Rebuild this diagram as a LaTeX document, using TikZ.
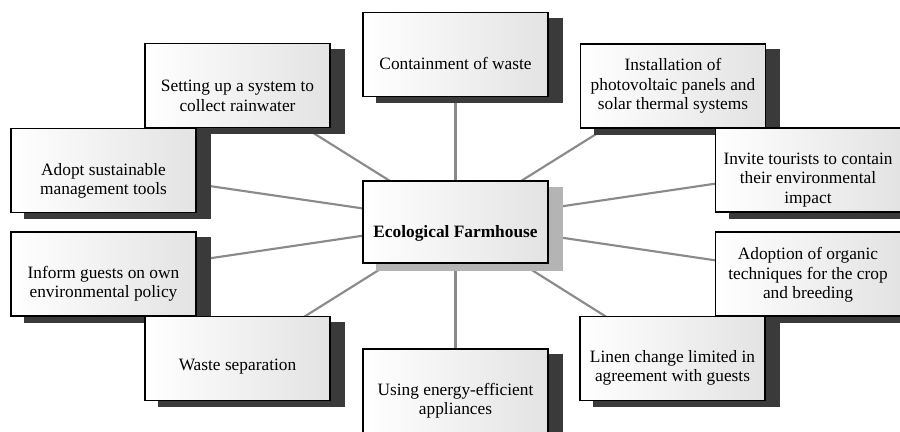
\documentclass[tikz,border=0pt]{standalone}
\usepackage{fontspec}
\setmainfont{Liberation Serif}
\usetikzlibrary{calc,backgrounds}

\tikzset{every picture/.style={line width=0.75pt}}
\tikzset{
  card/.style={draw={rgb, 255:red, 0; green, 0; blue, 0 }, line width=0.9pt, left color=white, right color=black!11, minimum width=138.75pt, minimum height=63pt, inner sep=0pt},
  cardtext/.style={align=center, inner sep=0pt, font=\fontsize{13}{14.6}\selectfont},
  spoke/.style={draw={rgb, 255:red, 138; green, 138; blue, 138 }, line width=1.6pt},
  cardshadow/.style={fill={rgb, 255:red, 58; green, 58; blue, 58 }},
  hubshadow/.style={fill={rgb, 255:red, 180; green, 180; blue, 180 }}
}

\begin{document}
\begin{tikzpicture}[x=0.75pt,y=0.75pt,yscale=-1,xscale=1]
\useasboundingbox (0,0) rectangle (900,432); %diagram is 900 wide, 432 high

%Shape: Rectangle [hub]
\node[card, minimum height=61.5pt] (hub) at (455.5,222) {};
%Shape: Rectangle [top]
\node[card] (cont) at (455.5,54.5) {};
%Shape: Rectangle [upper left]
\node[card] (setup) at (237.5,85.5) {};
%Shape: Rectangle [upper right]
\node[card] (install) at (673,86) {};
%Shape: Rectangle [left, up]
\node[card] (adopt) at (103.5,170.5) {};
%Shape: Rectangle [right, up]
\node[card] (invite) at (808,170) {};
%Shape: Rectangle [left, down]
\node[card] (inform) at (103.5,274) {};
%Shape: Rectangle [right, down]
\node[card] (organic) at (808,274) {};
%Shape: Rectangle [lower left]
\node[card] (waste) at (237.5,358.5) {};
%Shape: Rectangle [lower right]
\node[card] (linen) at (672.5,358.5) {};
%Shape: Rectangle [bottom]
\node[card] (energy) at (455.5,391) {};

\begin{pgfonlayer}{background}
%Straight Lines
\foreach \n in {cont,setup,install,adopt,invite,inform,organic,waste,linen,energy}
  \draw[spoke] (hub.center) -- (\n.center);
%Shadows
\foreach \n in {cont,setup,install,adopt,invite,inform,organic,waste,linen,energy}
  \fill[cardshadow] ($(\n.south west)+(14,6)$) rectangle ($(\n.north east)+(14,6)$);
\fill[hubshadow] ($(hub.south west)+(14,7)$) rectangle ($(hub.north east)+(14,7)$);
\end{pgfonlayer}

% Text Node
\node[cardtext, font=\fontsize{13}{14.6}\selectfont\bfseries] (hubT) at ($(hub)+(0,11)$) {Ecological Farmhouse};
% Text Node
\node[cardtext] (contT) at ($(cont)+(0,8.5)$) {Containment of waste};
% Text Node
\node[cardtext] (setupT) at ($(setup)+(0,10.5)$) {Setting up a system to\\collect rainwater};
% Text Node
\node[cardtext] (installT) at ($(install)+(0,0)$) {Installation of\\photovoltaic panels and\\solar thermal systems};
% Text Node
\node[cardtext] (adoptT) at ($(adopt)+(0,10.5)$) {Adopt sustainable\\management tools};
% Text Node
\node[cardtext] (inviteT) at ($(invite)+(0,10)$) {Invite tourists to contain\\their environmental\\impact};
% Text Node
\node[cardtext] (informT) at ($(inform)+(0,9.5)$) {Inform guests on own\\environmental policy};
% Text Node
\node[cardtext] (organicT) at ($(organic)+(0,1)$) {Adoption of organic\\techniques for the crop\\and breeding};
% Text Node
\node[cardtext] (wasteT) at ($(waste)+(0,8.5)$) {Waste separation};
% Text Node
\node[cardtext] (linenT) at ($(linen)+(0,9.5)$) {Linen change limited in\\agreement with guests};
% Text Node
\node[cardtext] (energyT) at ($(energy)+(0,10)$) {Using energy-efficient\\appliances};

\end{tikzpicture}
\end{document}
